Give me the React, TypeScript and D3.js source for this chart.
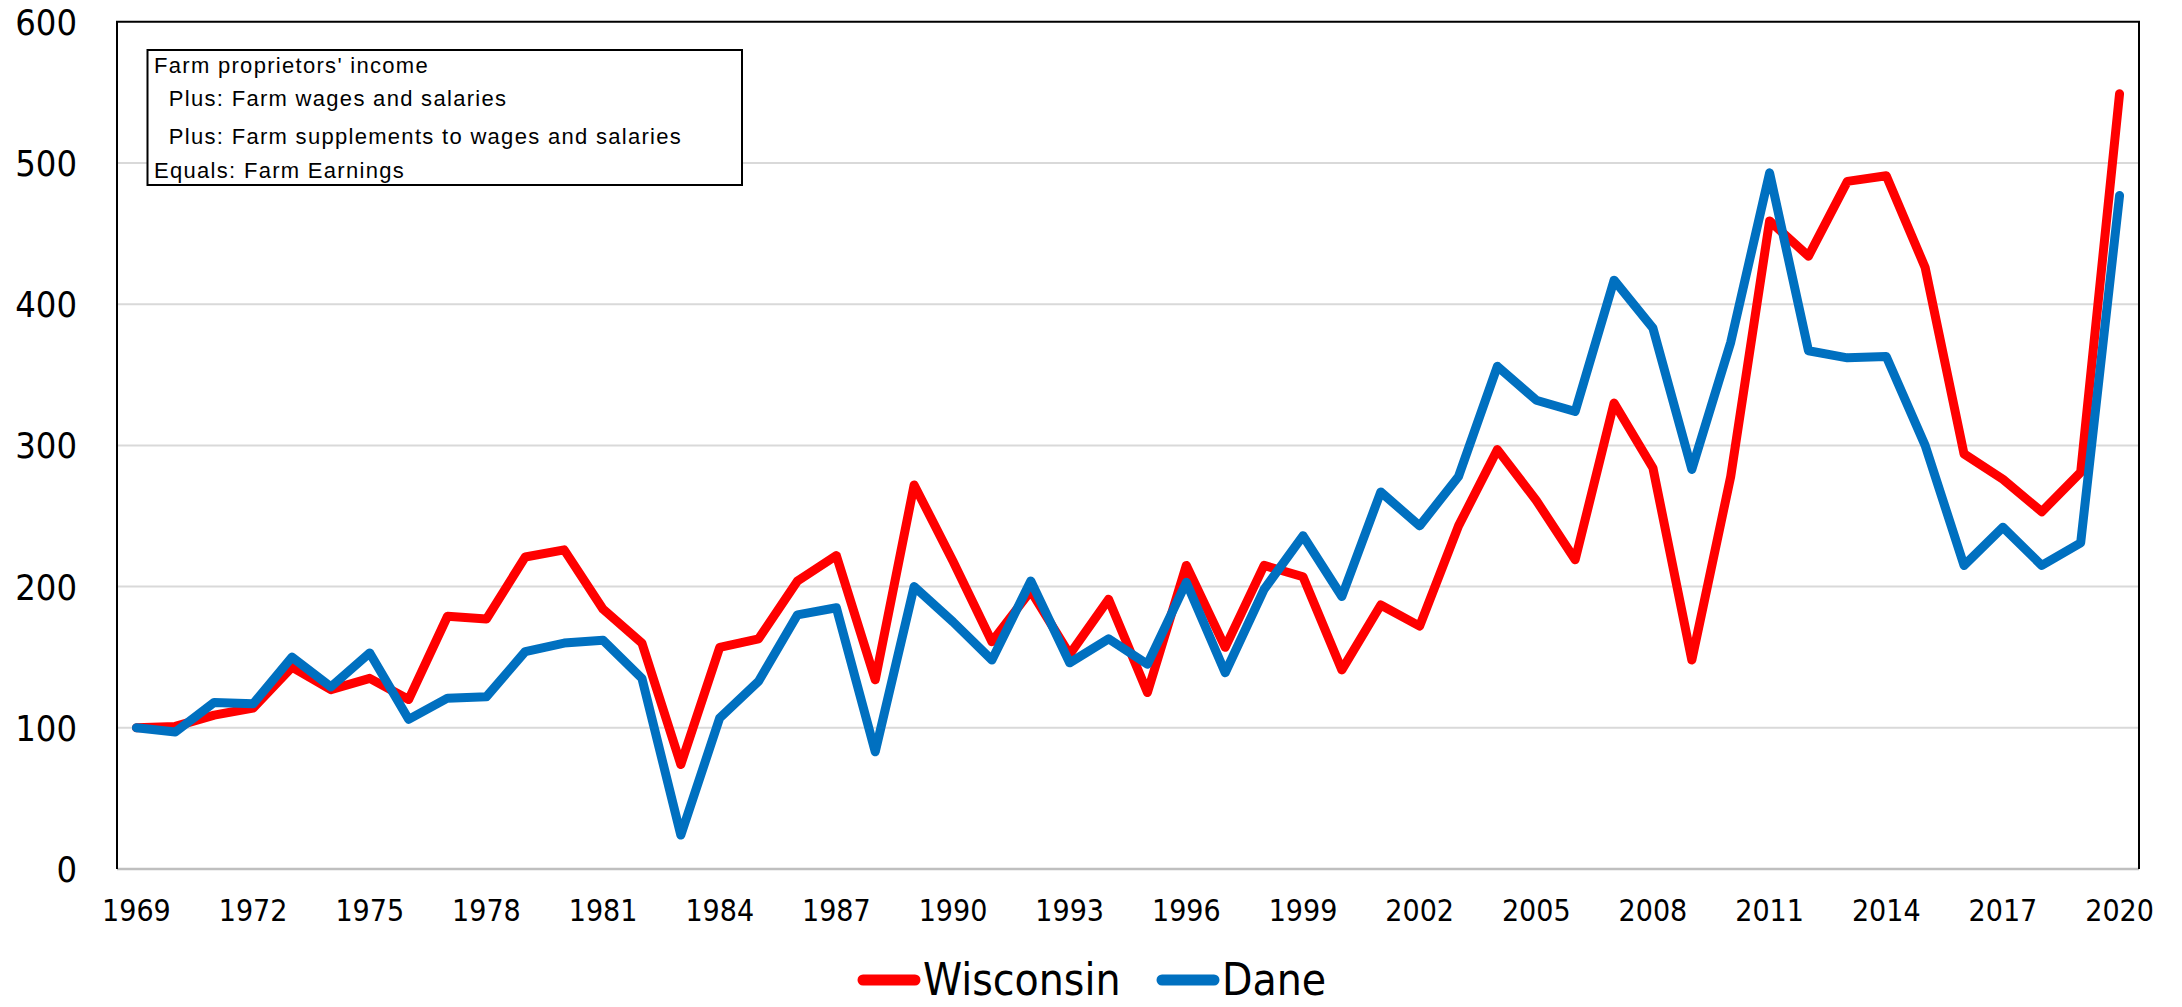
import React, { useEffect, useRef } from "react";
import * as d3 from "d3";

// years on the category axis
const years = [
  1969, 1970, 1971, 1972, 1973, 1974, 1975, 1976, 1977, 1978, 1979, 1980, 1981,
  1982, 1983, 1984, 1985, 1986, 1987, 1988, 1989, 1990, 1991, 1992, 1993, 1994,
  1995, 1996, 1997, 1998, 1999, 2000, 2001, 2002, 2003, 2004, 2005, 2006, 2007,
  2008, 2009, 2010, 2011, 2012, 2013, 2014, 2015, 2016, 2017, 2018, 2019, 2020,
];

// index, 1969 = 100
const wisconsin = [
  100, 101, 109, 114, 143, 127, 135, 120, 179, 177, 221, 226, 184, 160, 74, 157,
  163, 204, 222, 134, 272, 218, 161, 197, 152, 191, 125, 215, 157, 215, 207, 141,
  187, 172, 243, 297, 261, 219, 330, 284, 148, 278, 459, 434, 487, 491, 426, 294,
  276, 253, 281, 549,
];
const dane = [
  100, 97, 118, 117, 150, 129, 153, 106, 121, 122, 154, 160, 162, 135, 24, 107,
  133, 180, 185, 83, 200, 175, 148, 204, 146, 163, 145, 203, 139, 198, 236, 193,
  267, 243, 278, 356, 332, 324, 417, 383, 283, 373, 493, 367, 362, 363, 300, 215,
  242, 215, 231, 477,
];

const tickYears = [
  1969, 1972, 1975, 1978, 1981, 1984, 1987, 1990, 1993, 1996, 1999, 2002, 2005,
  2008, 2011, 2014, 2017, 2020,
];
const yTicks = [0, 100, 200, 300, 400, 500, 600];

const seriesNames = ["Wisconsin", "Dane"];
const seriesColors = ["#ff0000", "#0070c0"];

const boxLines = [
  "Farm proprietors' income",
  "  Plus: Farm wages and salaries",
  "  Plus: Farm supplements to wages and salaries",
  "Equals: Farm Earnings",
];

const width = 2182;
const height = 1007;
const left = 117;
const right = 2139;
const top = 21.8;
const bottom = 869;

const axisFont = "'Liberation Sans Narrow', 'Arial Narrow', 'DejaVu Sans Condensed', sans-serif";
const boxFont = "'Liberation Sans', Arial, sans-serif";

const Chart = () => {
  const ref = useRef<SVGSVGElement>(null);

  useEffect(() => {
    document.body.style.margin = "0";
    const svg = d3.select(ref.current);
    svg.selectAll("*").remove();

    const x = d3.scaleBand<number>().domain(years).range([left, right]);
    const y = d3.scaleLinear().domain([0, 600]).range([bottom, top]);
    const cx = (yr: number) => (x(yr) as number) + x.bandwidth() / 2;

    // gridlines
    svg.append("g")
      .selectAll("line")
      .data(yTicks.filter((d) => d > 0 && d < 600))
      .join("line")
      .attr("x1", left)
      .attr("x2", right)
      .attr("y1", (d) => y(d))
      .attr("y2", (d) => y(d))
      .attr("stroke", "#d9d9d9")
      .attr("stroke-width", 2);

    // y labels
    svg.append("g")
      .selectAll("text")
      .data(yTicks)
      .join("text")
      .attr("x", 77)
      .attr("y", (d) => y(d))
      .attr("dy", "0.36em")
      .attr("text-anchor", "end")
      .attr("font-family", axisFont)
      .attr("font-size", 36)
      .text((d) => d);

    // x labels
    svg.append("g")
      .selectAll("text")
      .data(tickYears)
      .join("text")
      .attr("x", (d) => cx(d))
      .attr("y", 910)
      .attr("dy", "0.36em")
      .attr("text-anchor", "middle")
      .attr("font-family", axisFont)
      .attr("font-size", 30)
      .text((d) => d);

    // lines
    const series = [wisconsin, dane];
    series.forEach((vals, k) => {
      const line = d3.line<number>()
        .x((_, i) => cx(years[i]))
        .y((d) => y(d));
      svg.append("path")
        .attr("d", line(vals))
        .attr("fill", "none")
        .attr("stroke", seriesColors[k])
        .attr("stroke-width", 9)
        .attr("stroke-linejoin", "round")
        .attr("stroke-linecap", "round");
    });

    // plot frame
    svg.append("line")
      .attr("x1", left).attr("x2", right)
      .attr("y1", bottom).attr("y2", bottom)
      .attr("stroke", "#bfbfbf").attr("stroke-width", 2.5);
    svg.append("path")
      .attr("d", `M${left},${bottom} V${top} H${right} V${bottom}`)
      .attr("fill", "none")
      .attr("stroke", "#000")
      .attr("stroke-width", 2);

    // text box
    svg.append("rect")
      .attr("x", 147.5)
      .attr("y", 50)
      .attr("width", 594.5)
      .attr("height", 135)
      .attr("fill", "#fff")
      .attr("stroke", "#000")
      .attr("stroke-width", 2);
    const baselines = [73, 106, 144, 178];
    svg.append("g")
      .selectAll("text")
      .data(boxLines)
      .join("text")
      .attr("x", 154)
      .attr("y", (_, i) => baselines[i])
      .attr("font-family", boxFont)
      .attr("font-size", 22)
      .attr("letter-spacing", 1.3)
      .attr("xml:space", "preserve")
      .style("white-space", "pre")
      .text((d) => d);

    // legend
    const legendX = [859, 1158];
    seriesNames.forEach((name, k) => {
      svg.append("line")
        .attr("x1", legendX[k] + 4).attr("x2", legendX[k] + 56)
        .attr("y1", 980).attr("y2", 980)
        .attr("stroke", seriesColors[k])
        .attr("stroke-width", 11)
        .attr("stroke-linecap", "round");
      svg.append("text")
        .attr("x", legendX[k] + 64)
        .attr("y", 980)
        .attr("dy", "0.35em")
        .attr("font-family", axisFont)
        .attr("font-size", 44)
        .text(name);
    });
  }, []);

  return <svg ref={ref} width={width} height={height} style={{ display: "block", background: "#fff" }} />;
};

export default function App() {
  return <Chart />;
}
